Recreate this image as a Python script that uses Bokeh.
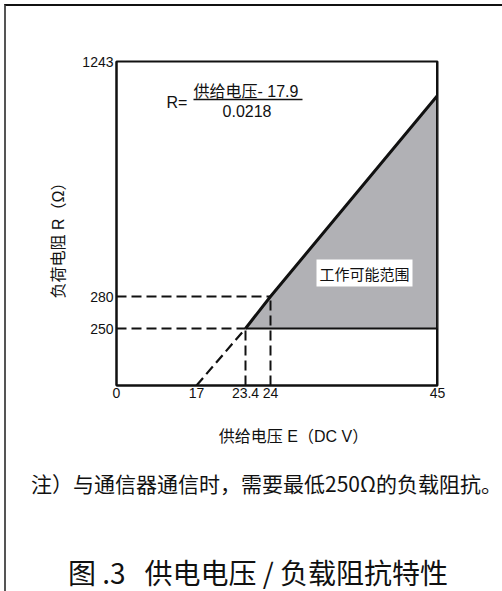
import numpy as np
from bokeh.plotting import figure
from bokeh.layouts import column
from bokeh.models import FixedTicker, Label, Range1d, Title
from bokeh.embed import file_html
from bokeh.resources import INLINE
from bokeh.core.properties import value

# ---------------- data ----------------
voltage_ticks = [0, 17, 23.4, 24, 45]            # supply voltage E (DC V)
voltage_tick_labels = ["0", "17", "23.4", "24", "45"]
resistance_ticks = [0, 250, 280, 1243]           # load resistance R (ohm)
resistance_tick_labels = ["0", "250", "280", "1243"]

boundary_E = [23.4, 24, 45]                      # upper boundary (solid)
boundary_R = [250, 280, 1104]
extension_E = [17, 23.4]                         # dashed extension to R = 0
extension_R = [0, 250]
min_load_R = 250
max_voltage = 45

x_title = "供给电压 E（DC V）"
y_title = "负荷电阻 R（Ω）"
note_text = "注）与通信器通信时，需要最低250Ω的负载阻抗。"
caption_text = "图\u00a0.3\u00a0\u00a0\u00a0供电电压\u00a0/\u00a0负载阻抗特性"

# ---------------- schematic layout (non-linear axes, as in the drawing) ----------------
X_POS = [0, 80, 129, 154, 321]
Y_POS = [0, 57, 89, 324]


def sx(e):
    return [float(v) for v in np.interp(e, voltage_ticks, X_POS)]


def sy(r):
    return [float(v) for v in np.interp(r, resistance_ticks, Y_POS)]


LATIN = "'Liberation Sans', 'Noto Sans CJK SC'"
CJK = "'Noto Sans CJK SC'"
INK = "#111111"

W, HA, HB = 496, 410, 175

# ---------------- chart figure ----------------
p = figure(
    width=W, height=HA,
    x_range=Range1d(X_POS[0], X_POS[-1]), y_range=Range1d(Y_POS[0], Y_POS[-1]),
    output_backend="svg", toolbar_location=None, title=None,
    min_border_left=110, min_border_top=55, min_border_right=65, min_border_bottom=31,
)
p.frame_align = False
p.xgrid.visible = False
p.ygrid.visible = False
p.outline_line_color = INK
p.outline_line_width = 2
p.outline_line_alpha = 1
p.background_fill_color = "white"
p.border_fill_color = "white"

xt = sx(voltage_ticks)
p.xaxis.ticker = FixedTicker(ticks=xt)
p.xaxis.major_label_overrides = {t: l for t, l in zip(xt, voltage_tick_labels)}
yt = sy(resistance_ticks[1:])
p.yaxis.ticker = FixedTicker(ticks=yt)
p.yaxis.major_label_overrides = {t: l for t, l in zip(yt, resistance_tick_labels[1:])}
for ax in (p.xaxis, p.yaxis):
    ax.axis_line_color = INK
    ax.axis_line_width = 2
    ax.major_tick_line_color = None
    ax.minor_tick_line_color = None
    ax.major_tick_out = 0
    ax.major_tick_in = 0
    ax.major_label_text_font = LATIN
    ax.major_label_text_font_size = "14px"
    ax.major_label_text_color = INK
p.xaxis.major_label_standoff = 2
p.yaxis.major_label_standoff = 3

p.add_layout(Title(text=y_title, align="left", offset=87, vertical_align="middle", standoff=24,
                   text_font=LATIN, text_font_size="16px", text_font_style="normal",
                   text_color=INK), "left")

# operating region
poly_E = boundary_E + [max_voltage]
poly_R = boundary_R + [min_load_R]
p.patch(sx(poly_E), sy(poly_R), fill_color="#b1b1b5", line_color=None)

# dashed guide lines
dash = "10 5"
p.line(sx([0, 24]), sy([280, 280]), line_color=INK, line_width=2, line_dash=dash)
p.line(sx([0, 23.4]), sy([min_load_R, min_load_R]), line_color=INK, line_width=2, line_dash=dash)
p.line(sx([23.4, 23.4]), sy([0, min_load_R]), line_color=INK, line_width=2, line_dash=dash)
p.line(sx([24, 24]), sy([0, 280]), line_color=INK, line_width=2, line_dash=dash)
p.line(sx(extension_E), sy(extension_R), line_color=INK, line_width=2.2, line_dash=dash)

# solid boundaries
p.line(sx([23.4, max_voltage]), sy([min_load_R, min_load_R]), line_color=INK, line_width=2)
p.line(sx(boundary_E), sy(boundary_R), line_color=INK, line_width=3)
p.line(sx([max_voltage, max_voltage]), sy([0, 1243]), line_color=INK, line_width=3)

# formula
p.add_layout(Label(x=50, y=283, text="R=", text_font=LATIN, text_font_size="16px",
                   text_color=INK, text_align="left", text_baseline="middle"))
p.add_layout(Label(x=77, y=294, text="供给电压- 17.9", text_font=LATIN, text_font_size="16px",
                   text_color=INK, text_align="left", text_baseline="middle"))
p.segment(x0=[77], y0=[286], x1=[186], y1=[286], line_color=INK, line_width=1.3)
p.add_layout(Label(x=130.5, y=275, text="0.0218", text_font=LATIN, text_font_size="16px",
                   text_color=INK, text_align="center", text_baseline="middle"))

# region label
p.add_layout(Label(x=248, y=112.5, text="工作可能范围", text_font=CJK, text_font_size="15px",
                   text_color=INK, text_align="center", text_baseline="middle",
                   background_fill_color="white", padding=3))

# ---------------- text strip below the chart ----------------
q = figure(
    width=W, height=HB, x_range=Range1d(0, W), y_range=Range1d(HB, 0),
    output_backend="svg", toolbar_location=None, title=None,
    x_axis_type=None, y_axis_type=None,
    min_border_left=0, min_border_right=0, min_border_top=0, min_border_bottom=0,
)
q.frame_align = False
q.xgrid.visible = False
q.ygrid.visible = False
q.outline_line_color = None
q.background_fill_color = "white"
q.border_fill_color = "white"

q.text(x=[287], y=[20], text=[x_title], text_font=value(LATIN), text_font_size="16px",
       text_color=INK, text_align="center", text_baseline="middle")
q.text(x=[260], y=[66], text=[note_text], text_font=value(CJK), text_font_size="21px",
       text_color=INK, text_align="center", text_baseline="middle")
q.text(x=[251.5], y=[155], text=[caption_text], text_font=value(CJK), text_font_size="28px",
       text_color=INK, text_align="center", text_baseline="middle")

page = column(p, q, spacing=0,
              styles={"margin-left": "4px", "margin-top": "4px",
                      "border-top": "2px solid #111111",
                      "border-left": "2px solid #555555"})

open("out.html", "w").write(file_html(page, INLINE))
